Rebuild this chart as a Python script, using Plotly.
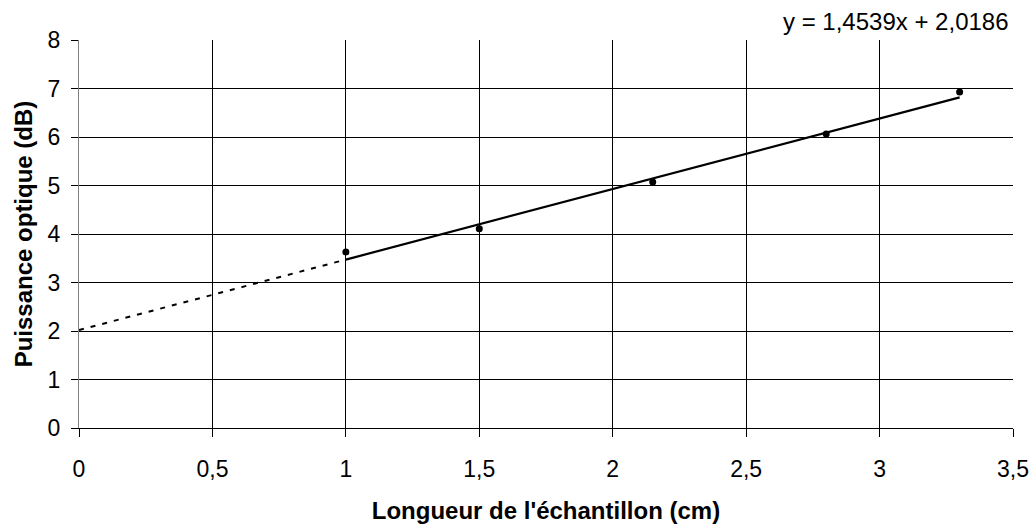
import plotly.graph_objects as go

# Measured samples
longueur_cm = [1.0, 1.5, 2.15, 2.8, 3.3]
puissance_db = [3.63, 4.11, 5.07, 6.06, 6.93]

# Linear fit shown on the chart
pente = 1.4539
origine = 2.0186

x_ticks = [0, 0.5, 1, 1.5, 2, 2.5, 3, 3.5]
y_ticks = [0, 1, 2, 3, 4, 5, 6, 7, 8]

font_family = "Liberation Sans, Arial, sans-serif"

x_start, x_end = min(longueur_cm), max(longueur_cm)

fig = go.Figure()

# Backward extrapolation of the fit (dashed)
fig.add_trace(go.Scatter(
    x=[0, x_start],
    y=[origine, pente * x_start + origine],
    mode="lines",
    line=dict(color="black", width=2, dash="5px,7px"),
    hoverinfo="skip",
    showlegend=False,
))

# Fit over the measured range (solid)
fig.add_trace(go.Scatter(
    x=[x_start, x_end],
    y=[pente * x_start + origine, pente * x_end + origine],
    mode="lines",
    line=dict(color="black", width=2.2),
    hoverinfo="skip",
    showlegend=False,
))

# Data points
fig.add_trace(go.Scatter(
    x=longueur_cm,
    y=puissance_db,
    mode="markers",
    marker=dict(color="black", size=7),
    showlegend=False,
))

fig.add_annotation(
    xref="paper", yref="paper",
    x=1.0, y=1.0,
    xanchor="right", yanchor="bottom",
    yshift=3, xshift=-2,
    text=f"y = {pente:.4f}x + {origine:.4f}".replace(".", ","),
    showarrow=False,
    font=dict(family=font_family, size=24, color="black"),
)

fig.update_layout(
    width=1032,
    height=527,
    margin=dict(l=79, r=19, t=40, b=99),
    paper_bgcolor="white",
    plot_bgcolor="white",
    separators=", ",
    font=dict(family=font_family, size=23, color="black"),
    showlegend=False,
)

fig.update_xaxes(
    range=[0, 3.5],
    tickvals=x_ticks,
    automargin=False,
    showgrid=True, gridcolor="black", gridwidth=1,
    zeroline=False,
    showline=True, linecolor="black", linewidth=1,
    ticks="outside", ticklen=8, tickcolor="black",
    ticklabelstandoff=12,
    tickfont=dict(size=23),
    title=dict(text="<b>Longueur de l'échantillon (cm)</b>",
               font=dict(size=24), standoff=21),
)

fig.update_yaxes(
    range=[0, 8],
    tickvals=y_ticks,
    automargin=False,
    showgrid=True, gridcolor="black", gridwidth=1,
    zeroline=False,
    showline=True, linecolor="#808080", linewidth=1,
    ticks="outside", ticklen=7, tickcolor="black",
    ticklabelstandoff=6,
    tickfont=dict(size=23),
    title=dict(text="<b>Puissance optique (dB)</b>",
               font=dict(size=24), standoff=8),
)

fig.write_html("out.html")
